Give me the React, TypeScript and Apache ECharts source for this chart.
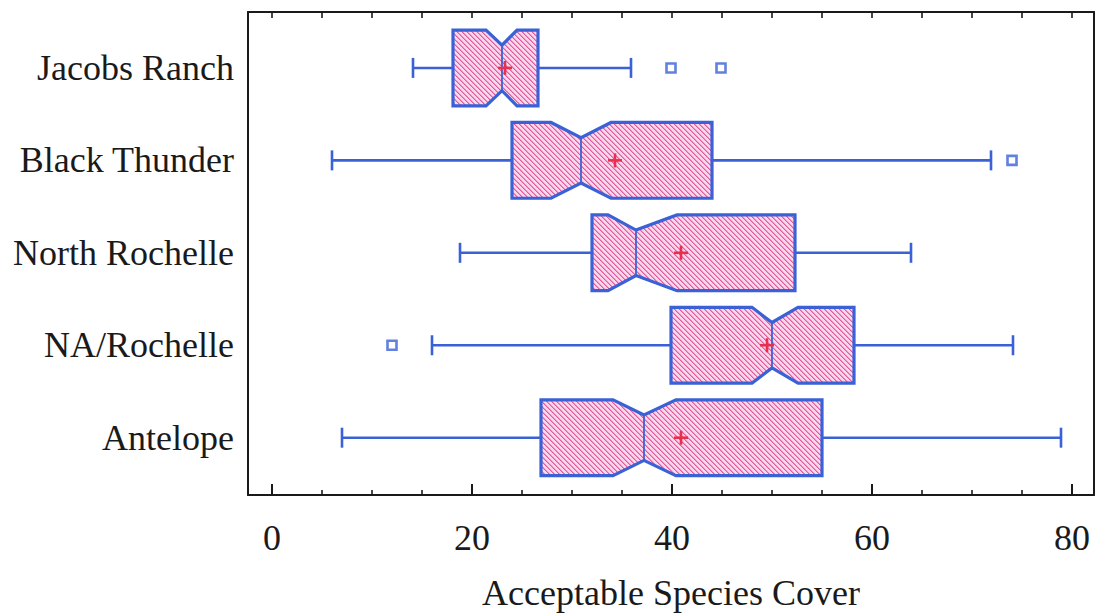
import React, { useEffect, useRef } from "react";
import * as echarts from "echarts";

// Categories from bottom (0) to top (4)
const categories = ["Antelope", "NA/Rochelle", "North Rochelle", "Black Thunder", "Jacobs Ranch"];
const whiskerLow = [7.0, 16.0, 18.8, 6.0, 14.1];
const q1 = [26.9, 39.9, 32.0, 24.0, 18.1];
const notchLow = [34.1, 48.0, 33.6, 27.9, 21.4];
const median = [37.2, 50.0, 36.4, 30.9, 23.0];
const notchHigh = [40.4, 52.6, 40.5, 33.9, 24.5];
const q3 = [55.0, 58.2, 52.3, 44.0, 26.6];
const whiskerHigh = [78.9, 74.1, 63.9, 71.9, 35.9];
const means = [40.9, 49.5, 40.9, 34.3, 23.3];
// outliers: [value, category index]
const outliers = [
  [12.0, 1],
  [74.0, 3],
  [39.9, 4],
  [44.9, 4],
];
const majorTicks = [0, 20, 40, 60, 80];
const minorTicks = [5, 10, 15, 25, 30, 35, 45, 50, 55, 65, 70, 75];
const allTicks = [0, 5, 10, 15, 20, 25, 30, 35, 40, 45, 50, 55, 60, 65, 70, 75, 80];
const xTitle = "Acceptable Species Cover";

const FONT = "'Liberation Serif', 'Times New Roman', serif";
const BLUE = "#3a62d6";
const RED = "#e8304e";
const AXIS = "#1a1a1a";

function makePattern(): HTMLCanvasElement {
  const n = 5;
  const c = document.createElement("canvas");
  c.width = n;
  c.height = n;
  const ctx = c.getContext("2d")!;
  const img = ctx.createImageData(n, n);
  for (let j = 0; j < n; j++) {
    for (let i = 0; i < n; i++) {
      const k = (((i - j) % n) + n) % n;
      const idx = (j * n + i) * 4;
      const col = k === 0 ? [226, 90, 156] : k === 1 ? [238, 150, 196] : [250, 214, 236];
      img.data[idx] = col[0];
      img.data[idx + 1] = col[1];
      img.data[idx + 2] = col[2];
      img.data[idx + 3] = 255;
    }
  }
  ctx.putImageData(img, 0, 0);
  return c;
}

export default function App() {
  const ref = useRef<HTMLDivElement>(null);
  useEffect(() => {
    if (!ref.current) return;
    const chart = echarts.init(ref.current, null, { renderer: "svg" });
    const pattern = makePattern();

    const boxData = categories.map((_, i) => [
      i,
      whiskerLow[i],
      q1[i],
      notchLow[i],
      median[i],
      notchHigh[i],
      q3[i],
      whiskerHigh[i],
      means[i],
    ]);

    const xMin = -2.4;
    const xMax = 82.2;
    const yMin = -0.62;
    const yMax = 4.605;
    const gridRect = { left: 248, top: 12, width: 846, height: 483 };

    const renderItem = (params: any, api: any) => {
      const yv = api.value(0);
      const vals = [1, 2, 3, 4, 5, 6, 7, 8].map((d) => api.value(d));
      const [lo, b1, nl, md, nh, b3, hi, mn] = vals;
      const yc = api.coord([0, yv])[1];
      const X = (v: number) => api.coord([v, yv])[0];
      const h = api.size([0, 0.41])[1];
      const hn = h * 0.6;
      const cap = 10;
      const points = [
        [X(b1), yc - h],
        [X(nl), yc - h],
        [X(md), yc - hn],
        [X(nh), yc - h],
        [X(b3), yc - h],
        [X(b3), yc + h],
        [X(nh), yc + h],
        [X(md), yc + hn],
        [X(nl), yc + h],
        [X(b1), yc + h],
      ];
      const lineStyle = { stroke: BLUE, lineWidth: 2.6 };
      const mx = X(mn);
      return {
        type: "group",
        children: [
          { type: "line", shape: { x1: X(lo), y1: yc, x2: X(b1), y2: yc }, style: lineStyle },
          { type: "line", shape: { x1: X(b3), y1: yc, x2: X(hi), y2: yc }, style: lineStyle },
          { type: "line", shape: { x1: X(lo), y1: yc - cap, x2: X(lo), y2: yc + cap }, style: lineStyle },
          { type: "line", shape: { x1: X(hi), y1: yc - cap, x2: X(hi), y2: yc + cap }, style: lineStyle },
          {
            type: "polygon",
            shape: { points },
            style: {
              fill: { image: pattern, repeat: "repeat" },
              stroke: BLUE,
              lineWidth: 3.2,
              lineJoin: "miter",
            },
          },
          { type: "line", shape: { x1: X(md), y1: yc - hn, x2: X(md), y2: yc + hn }, style: { stroke: BLUE, lineWidth: 1.8 } },
          { type: "line", shape: { x1: mx - 7, y1: yc, x2: mx + 7, y2: yc }, style: { stroke: RED, lineWidth: 2.6 } },
          { type: "line", shape: { x1: mx, y1: yc - 7, x2: mx, y2: yc + 7 }, style: { stroke: RED, lineWidth: 2.6 } },
        ],
      };
    };

    const labelStyle = { fontFamily: FONT, fontSize: 36, color: "#1a1a1a" };

    chart.setOption({
      animation: false,
      backgroundColor: "#ffffff",
      grid: [
        { ...gridRect, containLabel: false, outerBoundsMode: "none" },
        { ...gridRect, containLabel: false, outerBoundsMode: "none" },
      ],
      xAxis: [
        {
          type: "value",
          gridIndex: 0,
          position: "bottom",
          min: xMin,
          max: xMax,
          axisLine: { show: true, onZero: false, lineStyle: { color: AXIS, width: 2 } },
          axisTick: { show: true, inside: true, length: 11, customValues: majorTicks, lineStyle: { color: AXIS, width: 2 } },
          axisLabel: { show: true, customValues: majorTicks, margin: 25, ...labelStyle },
          splitLine: { show: false },
          name: xTitle,
          nameLocation: "middle",
          nameGap: 80,
          nameTextStyle: { ...labelStyle },
        },
        {
          type: "value",
          gridIndex: 0,
          position: "top",
          min: xMin,
          max: xMax,
          axisLine: { show: true, onZero: false, lineStyle: { color: AXIS, width: 2 } },
          axisTick: { show: true, inside: true, length: 6, customValues: allTicks, lineStyle: { color: AXIS, width: 1.6 } },
          axisLabel: { show: false },
          splitLine: { show: false },
        },
        {
          type: "value",
          gridIndex: 1,
          position: "bottom",
          min: xMin,
          max: xMax,
          axisLine: { show: false, onZero: false },
          axisTick: { show: true, inside: true, length: 5, customValues: minorTicks, lineStyle: { color: AXIS, width: 1.6 } },
          axisLabel: { show: false },
          splitLine: { show: false },
        },
      ],
      yAxis: [
        {
          type: "value",
          gridIndex: 0,
          position: "left",
          min: yMin,
          max: yMax,
          axisLine: { show: true, onZero: false, lineStyle: { color: AXIS, width: 2 } },
          axisTick: { show: false },
          axisLabel: {
            show: true,
            customValues: [0, 1, 2, 3, 4],
            margin: 14,
            formatter: (v: number) => categories[Math.round(v)] ?? "",
            ...labelStyle,
          },
          splitLine: { show: false },
        },
        {
          type: "value",
          gridIndex: 0,
          position: "right",
          min: yMin,
          max: yMax,
          axisLine: { show: true, onZero: false, lineStyle: { color: AXIS, width: 2 } },
          axisTick: { show: false },
          axisLabel: { show: false },
          splitLine: { show: false },
        },
        {
          type: "value",
          gridIndex: 1,
          min: yMin,
          max: yMax,
          show: false,
        },
      ],
      series: [
        {
          type: "custom",
          xAxisIndex: 0,
          yAxisIndex: 0,
          renderItem,
          encode: { x: [1, 2, 3, 4, 5, 6, 7, 8], y: 0 },
          data: boxData,
          z: 2,
        },
        {
          type: "scatter",
          xAxisIndex: 0,
          yAxisIndex: 0,
          symbol: "rect",
          symbolSize: 9,
          itemStyle: { color: "#ffffff", borderColor: BLUE, borderWidth: 2.6 },
          data: outliers,
          z: 3,
        },
      ],
    });
    return () => chart.dispose();
  }, []);
  return (
    <div
      ref={ref}
      style={{ position: "fixed", left: 0, top: 0, width: 1099, height: 615, background: "#fff" }}
    />
  );
}
